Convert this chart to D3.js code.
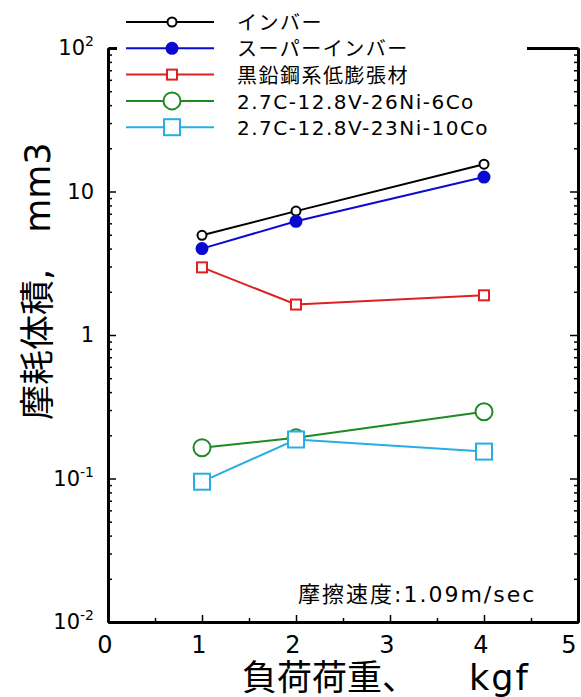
<!DOCTYPE html>
<html>
<head>
<meta charset="utf-8">
<script src="https://cdn.jsdelivr.net/npm/d3@7"></script>
<style>
  body { margin: 0; background: #fff; }
  text { font-family: "DejaVu Sans", "Noto Sans CJK JP", sans-serif; }
</style>
</head>
<body>
<div id="chart"></div>
<script>
// load (kgf) on the x axis
const loads = [1, 2, 4];

// wear volume (mm3) for each material
const invar = [4.95, 7.3, 15.5];
const superInvar = [4.0, 6.2, 12.6];
const graphiteSteel = [2.96, 1.63, 1.89];
const alloy6Co = [0.164, 0.192, 0.292];
const alloy10Co = [0.095, 0.187, 0.154];

const seriesNames = ["インバー", "スーパーインバー", "黒鉛鋼系低膨張材",
  "2.7C-12.8V-26Ni-6Co", "2.7C-12.8V-23Ni-10Co"];

const xTicks = [0, 1, 2, 3, 4, 5];
const xMinorTicks = [0.5, 1.5, 2.5, 3.5, 4.5];
const yTicks = [100, 10, 1, 0.1, 0.01];
const yTickLabels = [["10", "2"], ["10", ""], ["1", ""], ["10", "-1"], ["10", "-2"]];

let margin = { top: 48, left: 108, right: 3, bottom: 75 },
  width = 581 - margin.left - margin.right,
  height = 697 - margin.top - margin.bottom;

const svg = d3.select("#chart")
  .append("svg")
    .attr("width", 581)
    .attr("height", 697)
  .append("g")
    .attr("transform", `translate(${margin.left},${margin.top})`);

const x = d3.scaleLinear().domain([0, 5]).range([0, width]);
const y = d3.scaleLog().domain([0.01, 100]).range([height, 0]);

// minor ticks of the log axis: 2..9 in each decade
const yMinor = [];
[0.01, 0.1, 1, 10].forEach(d => {
  for (let k = 2; k <= 9; k++) yMinor.push(d * k);
});

// frame: left, right, bottom axes with inward ticks
const axisStyle = g => {
  g.select(".domain").attr("stroke-width", 3);
  g.selectAll(".tick line").attr("stroke-width", 1.5);
};

svg.append("g").call(d3.axisLeft(y).tickValues(yTicks).tickSize(-8).tickSizeOuter(0).tickFormat(""))
  .call(axisStyle);
svg.append("g").call(d3.axisLeft(y).tickValues(yMinor).tickSize(-4).tickSizeOuter(0).tickFormat(""))
  .call(axisStyle);
svg.append("g").attr("transform", `translate(${width},0)`)
  .call(d3.axisRight(y).tickValues(yTicks).tickSize(-8).tickSizeOuter(0).tickFormat(""))
  .call(axisStyle);
svg.append("g").attr("transform", `translate(${width},0)`)
  .call(d3.axisRight(y).tickValues(yMinor).tickSize(-4).tickSizeOuter(0).tickFormat(""))
  .call(axisStyle);
svg.append("g").attr("transform", `translate(0,${height})`)
  .call(d3.axisBottom(x).tickValues(xTicks).tickSize(-7).tickSizeOuter(0).tickFormat(""))
  .call(axisStyle);
svg.append("g").attr("transform", `translate(0,${height})`)
  .call(d3.axisBottom(x).tickValues(xMinorTicks).tickSize(-4).tickSizeOuter(0).tickFormat(""))
  .call(axisStyle);
svg.append("g")
  .call(d3.axisTop(x).tickValues([]).tickSizeOuter(0))
  .call(axisStyle);

// tick labels (the last one is kept inside the page edge)
svg.selectAll(".xlab")
  .data(xTicks)
  .enter().append("text")
    .attr("x", d => Math.min(x(d) - 3, width - 9))
    .attr("y", height + 31)
    .attr("text-anchor", "middle")
    .style("font-size", "24px")
    .text(d => d);

const ylab = svg.selectAll(".ylab")
  .data(yTicks)
  .enter().append("text")
    .attr("x", -14)
    .attr("y", d => y(d) + 7)
    .attr("text-anchor", "end")
    .style("font-size", "21px");
ylab.append("tspan").text((d, i) => yTickLabels[i][0]);
ylab.append("tspan")
  .attr("dy", -9)
  .style("font-size", "14px")
  .text((d, i) => yTickLabels[i][1]);

// axis titles
svg.append("text")
  .attr("transform", "rotate(-90)")
  .attr("x", -(420 - margin.top))
  .attr("y", 50 - margin.left)
  .style("font-size", "35px")
  .text("摩耗体積,")
  .append("tspan")
    .attr("dx", 36)
    .text("mm3");

svg.append("text")
  .attr("x", 242 - margin.left)
  .attr("y", 690 - margin.top)
  .style("font-size", "35px")
  .text("負荷荷重、")
  .append("tspan")
    .attr("dx", 52)
    .style("letter-spacing", "2px")
    .text("kgf");

svg.append("text")
  .attr("x", 298 - margin.left)
  .attr("y", 602 - margin.top)
  .style("font-size", "22px")
  .style("letter-spacing", "2px")
  .text("摩擦速度:1.09m/sec");

// series
const series = [
  { name: seriesNames[0], values: invar, color: "#000000", shape: "circle", size: 4.5, fill: "#fff" },
  { name: seriesNames[1], values: superInvar, color: "#0a0ad2", shape: "circle", size: 5.5, fill: "#0a0ad2" },
  { name: seriesNames[2], values: graphiteSteel, color: "#dc2121", shape: "square", size: 10, fill: "#fff" },
  { name: seriesNames[3], values: alloy6Co, color: "#1f8a24", shape: "circle", size: 8.5, fill: "#fff" },
  { name: seriesNames[4], values: alloy10Co, color: "#27aee3", shape: "square", size: 16, fill: "#fff" }
];

const line = d3.line()
  .x(d => x(d[0]))
  .y(d => y(d[1]));

const drawMarker = (g, s, cx, cy) => {
  if (s.shape === "circle") {
    g.append("circle")
      .attr("cx", cx).attr("cy", cy).attr("r", s.size)
      .attr("fill", s.fill).attr("stroke", s.color).attr("stroke-width", 2);
  } else {
    g.append("rect")
      .attr("x", cx - s.size / 2).attr("y", cy - s.size / 2)
      .attr("width", s.size).attr("height", s.size)
      .attr("fill", s.fill).attr("stroke", s.color).attr("stroke-width", 2);
  }
};

series.forEach(s => {
  const pts = loads.map((l, i) => [l, s.values[i]]);
  svg.append("path")
    .datum(pts)
    .attr("fill", "none")
    .attr("stroke", s.color)
    .attr("stroke-width", 2)
    .attr("d", line);
});
series.forEach(s => {
  loads.forEach((l, i) => drawMarker(svg, s, x(l), y(s.values[i])));
});

// legend, on a white box that hides the top of the frame
const legend = svg.append("g").attr("transform", `translate(0,${-margin.top})`);
legend.append("rect")
  .attr("x", 9).attr("y", 0)
  .attr("width", 410).attr("height", 140)
  .attr("fill", "#fff");

series.forEach((s, i) => {
  const ly = 22 + i * 26.3;
  legend.append("line")
    .attr("x1", 18).attr("x2", 106)
    .attr("y1", ly).attr("y2", ly)
    .attr("stroke", s.color).attr("stroke-width", 2);
  drawMarker(legend, s, 64, ly);
  legend.append("text")
    .attr("x", 129)
    .attr("y", ly + 8)
    .style("font-size", "20px")
    .style("letter-spacing", "1.5px")
    .text(s.name);
});
</script>
</body>
</html>
